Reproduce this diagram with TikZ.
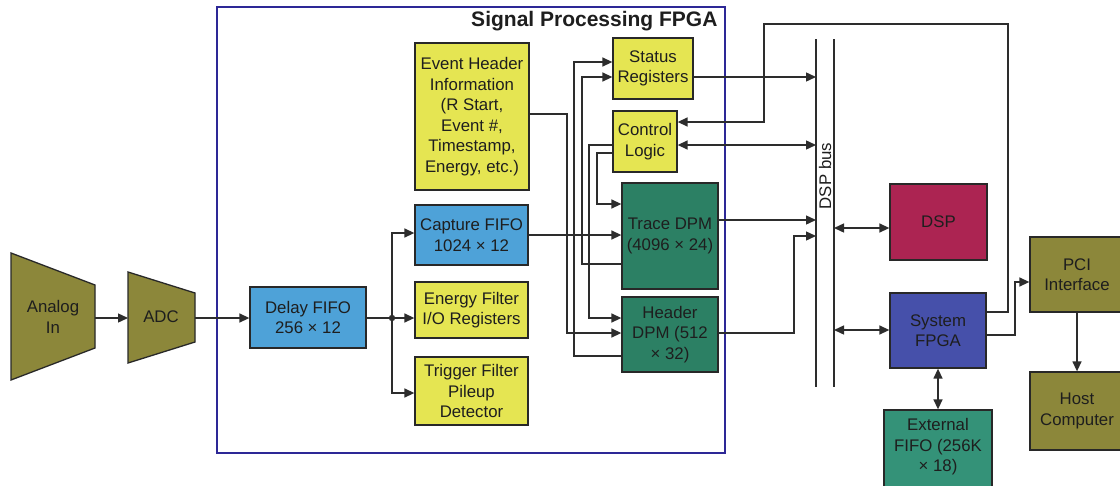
\documentclass[tikz,border=0pt]{standalone}
\usepackage{fontspec}
\setmainfont{Liberation Sans}
\usetikzlibrary{arrows.meta,calc}
\definecolor{colOlive}{RGB}{140,135,58}
\definecolor{colBlue}{RGB}{78,162,216}
\definecolor{colYellow}{RGB}{229,229,82}
\definecolor{colDPM}{RGB}{44,128,100}
\definecolor{colDSP}{RGB}{172,36,82}
\definecolor{colSys}{RGB}{70,80,170}
\definecolor{colExt}{RGB}{52,146,120}
\definecolor{edge}{RGB}{40,40,40}
\definecolor{wire}{RGB}{45,45,45}
\definecolor{txt}{RGB}{30,30,30}
\definecolor{navy}{RGB}{45,40,150}
\begin{document}
\begin{tikzpicture}[x=1pt,y=-1pt,
  every node/.style={font=\fontsize{16.8}{20.5}\selectfont, text=txt, align=center},
  blk/.style={draw=edge, line width=1.3pt, inner sep=0pt},
  conn/.style={draw=wire, line width=1.4pt},
  arr/.style={conn, -{Triangle[length=10pt,width=9pt]}},
  darr/.style={conn, {Triangle[length=10pt,width=9pt]}-{Triangle[length=10pt,width=9pt]}},
]
\clip (0,0) rectangle (1120,485);
\fill[white] (0,0) rectangle (1120,485);

% Signal processing FPGA container
\node[draw=navy, line width=1.1pt, minimum width=508pt, minimum height=446pt, inner sep=0pt] (spfpga) at (471,230) {};
\node[anchor=base east, font=\fontsize{21}{24}\selectfont\bfseries] (title) at (721,26) {Signal Processing FPGA};

% Analog In and ADC
\fill[colOlive, draw=edge, line width=1.3pt] (11,253) -- (95,285) -- (95,348) -- (11,380) -- cycle;
\node (analog) at (53,317) {Analog\\In};
\coordinate (analogout) at (95,318);
\fill[colOlive, draw=edge, line width=1.3pt] (128,272) -- (195,293) -- (195,342) -- (128,363) -- cycle;
\node (adc) at (161,317) {ADC};
\coordinate (adcin) at (128,318);
\coordinate (adcout) at (195,318);

% Blocks
\node[blk, fill=colBlue, minimum width=116pt, minimum height=61pt] (delay) at (308,317.5) {Delay FIFO\\256 × 12};
\node[blk, fill=colBlue, minimum width=113pt, minimum height=60pt] (capture) at (471.5,235) {Capture FIFO\\1024 × 12};
\node[blk, fill=colYellow, minimum width=113pt, minimum height=56pt] (energy) at (471.5,310) {Energy Filter\\I/O Registers};
\node[blk, fill=colYellow, minimum width=113pt, minimum height=68pt] (trigger) at (471.5,391) {Trigger Filter\\Pileup\\Detector};
\node[blk, fill=colYellow, minimum width=114pt, minimum height=147pt] (evh) at (472,116.5) {Event Header\\Information\\(R Start,\\Event \#,\\Timestamp,\\Energy, etc.)};
\node[blk, fill=colYellow, minimum width=80pt, minimum height=61pt] (status) at (653,68.5) {Status\\Registers};
\node[blk, fill=colYellow, minimum width=64pt, minimum height=61pt] (control) at (645,141.5) {Control\\Logic};
\node[blk, fill=colDPM, minimum width=96pt, minimum height=106pt] (trace) at (670,236) {Trace DPM\\(4096 × 24)};
\node[blk, fill=colDPM, minimum width=96pt, minimum height=75pt] (hdpm) at (670,334.5) {Header\\DPM (512\\× 32)};
\node[blk, fill=colDSP, minimum width=97pt, minimum height=76pt] (dsp) at (938.5,222) {DSP};
\node[blk, fill=colSys, minimum width=96pt, minimum height=75pt] (sysfpga) at (938,330.5) {System\\FPGA};
\node[blk, fill=colExt, minimum width=108pt, minimum height=86pt] (extfifo) at (938,453) {};
\node (extfifotext) at (938,447) {External\\FIFO (256K\\× 18)};
\node[blk, fill=colOlive, minimum width=94pt, minimum height=75pt] (pci) at (1077,274.5) {PCI\\Interface};
\node[blk, fill=colOlive, minimum width=94pt, minimum height=78pt] (host) at (1077,411) {Host\\Computer};

% DSP bus
\coordinate (busLt) at (816,39);
\coordinate (busLb) at (816,387);
\coordinate (busRt) at (834,39);
\coordinate (busRb) at (834,387);
\draw[conn] (busLt) -- (busLb);
\draw[conn] (busRt) -- (busRb);
\node[rotate=90] (buslabel) at (825,176) {DSP bus};

% Front end
\draw[arr] (analogout) -- (adcin);
\draw[arr] (adcout) -- (delay.west |- adcout);
\coordinate (junc) at (392,318);
\draw[conn] (delay.east |- junc) -- (junc);
\fill[wire] (junc) circle (3.2pt);
\draw[arr] (junc) |- (capture.west |- 0,233);
\draw[arr] (junc) -- (energy.west |- junc);
\draw[arr] (junc) |- (trigger.west |- 0,393);

% Internal routing
\draw[arr] (capture.east) -- (trace.west |- capture.east);
\draw[arr] (evh.east |- 0,114) -| (567,333) -- (hdpm.west |- 0,333);
\draw[arr] (trace.west |- 0,264) -| (582,77) -- (status.west |- 0,77);
\draw[arr] (hdpm.west |- 0,356) -| (574,62) -- (status.west |- 0,62);
\draw[arr] (control.west |- 0,145) -| (589,318) -- (hdpm.west |- 0,318);
\draw[arr] (control.west |- 0,153) -| (597,204) -- (trace.west |- 0,204);

% To/from bus
\draw[arr] (status.east |- 0,77) -- (busLt |- 0,77);
\draw[darr] (control.east |- 0,145) -- (busLt |- 0,145);
\draw[arr] (sysfpga.east |- 0,312) -| (1008,24) -| (764,122) -- (control.east |- 0,122);
\draw[arr] (trace.east |- 0,220) -- (busLt |- 0,220);
\draw[arr] (hdpm.east |- 0,333) -| (794,236) -- (busLt |- 0,236);
\draw[darr] (busRt |- 0,228) -- (dsp.west |- 0,228);
\draw[darr] (busRt |- 0,330) -- (sysfpga.west |- 0,330);
\draw[darr] (sysfpga.south) -- (extfifo.north);
\draw[arr] (sysfpga.east |- 0,335) -| (1015,282) -- (pci.west |- 0,282);
\draw[arr] (pci.south) -- (host.north);
\end{tikzpicture}
\end{document}
